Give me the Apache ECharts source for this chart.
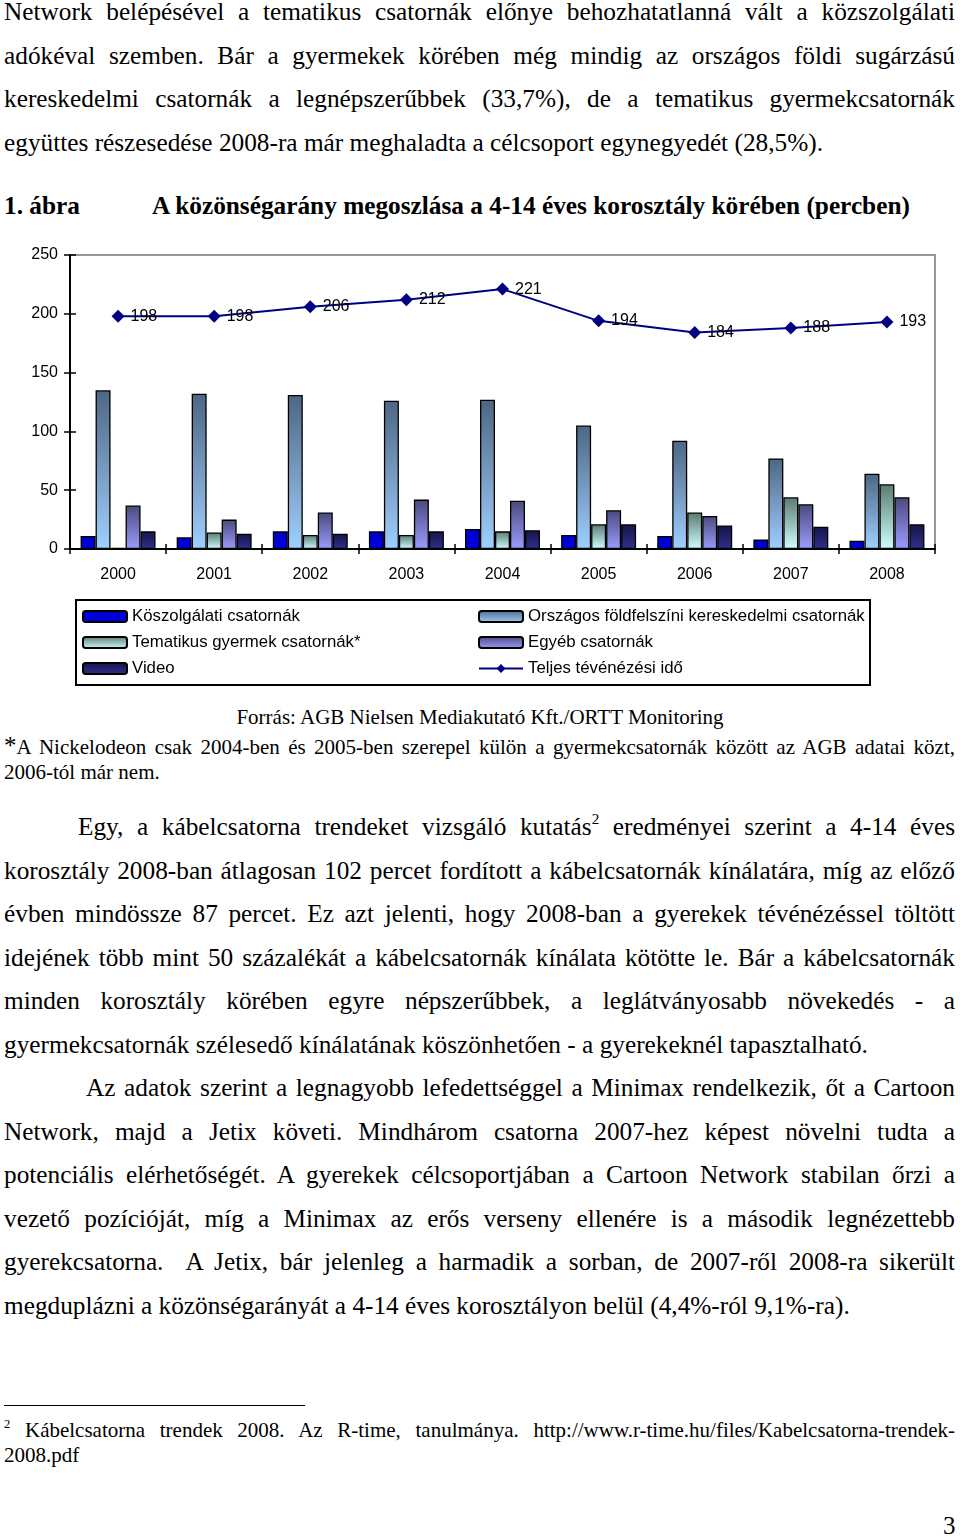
<!DOCTYPE html>
<html>
<head>
<meta charset="utf-8">
<script src="https://cdn.jsdelivr.net/npm/echarts@6/dist/echarts.min.js"></script>
<style>
  html, body { margin: 0; padding: 0; background: #fff; }
  body { width: 960px; height: 1537px; position: relative; overflow: hidden; font-family: "Liberation Serif", "Times New Roman", serif; color: #000; }
  .blk { position: absolute; left: 4px; width: 951px; }
  .p { font-size: 25.3px; line-height: 43.5px; }
  .l { white-space: nowrap; text-align: justify; text-align-last: justify; display: block; }
  .l.last { text-align-last: left; }
  .small { font-size: 21px; line-height: 25px; }
  sup { font-size: 60%; line-height: 0; vertical-align: 0.7em; }
  #chart { position: absolute; left: 0; top: 240px; width: 960px; height: 460px; }
</style>
</head>
<body>
<div class="blk p" style="top:-10px">
  <span class="l">Network belépésével a tematikus csatornák előnye behozhatatlanná vált a közszolgálati</span>
  <span class="l">adókéval szemben. Bár a gyermekek körében még mindig az országos földi sugárzású</span>
  <span class="l">kereskedelmi csatornák a legnépszerűbbek (33,7%), de a tematikus gyermekcsatornák</span>
  <span class="l last">együttes részesedése 2008-ra már meghaladta a célcsoport egynegyedét (28,5%).</span>
</div>
<div style="position:absolute; top:190px; left:4px; font-size:25.3px; font-weight:bold; line-height:30px;">1. ábra</div>
<div style="position:absolute; top:190px; left:152px; font-size:25.3px; font-weight:bold; line-height:30px;">A közönségarány megoszlása a 4-14 éves korosztály körében (percben)</div>

<div id="chart"></div>

<div style="position:absolute; top:705px; left:0; width:960px; text-align:center; font-size:21px; line-height:25px;">Forrás: AGB Nielsen Mediakutató Kft./ORTT Monitoring</div>
<div class="blk small" style="top:733px">
  <span class="l"><span style="font-size:25px">*</span>A Nickelodeon csak 2004-ben és 2005-ben szerepel külön a gyermekcsatornák között az AGB adatai közt,</span>
  <span class="l last">2006-tól már nem.</span>
</div>

<div class="blk p" style="top:805px">
  <span class="l" style="padding-left:74px">Egy, a kábelcsatorna trendeket vizsgáló kutatás<sup>2</sup> eredményei szerint a 4-14 éves</span>
  <span class="l">korosztály 2008-ban átlagosan 102 percet fordított a kábelcsatornák kínálatára, míg az előző</span>
  <span class="l">évben mindössze 87 percet. Ez azt jelenti, hogy 2008-ban a gyerekek tévénézéssel töltött</span>
  <span class="l">idejének több mint 50 százalékát a kábelcsatornák kínálata kötötte le. Bár a kábelcsatornák</span>
  <span class="l">minden korosztály körében egyre népszerűbbek, a leglátványosabb növekedés - a</span>
  <span class="l last">gyermekcsatornák szélesedő kínálatának köszönhetően - a gyerekeknél tapasztalható.</span>
</div>

<div class="blk p" style="top:1066px">
  <span class="l" style="padding-left:82px">Az adatok szerint a legnagyobb lefedettséggel a Minimax rendelkezik, őt a Cartoon</span>
  <span class="l">Network, majd a Jetix követi. Mindhárom csatorna 2007-hez képest növelni tudta a</span>
  <span class="l">potenciális elérhetőségét. A gyerekek célcsoportjában a Cartoon Network stabilan őrzi a</span>
  <span class="l">vezető pozícióját, míg a Minimax az erős verseny ellenére is a második legnézettebb</span>
  <span class="l">gyerekcsatorna.&nbsp; A Jetix, bár jelenleg a harmadik a sorban, de 2007-ről 2008-ra sikerült</span>
  <span class="l last">megduplázni a közönségarányát a 4-14 éves korosztályon belül (4,4%-ról 9,1%-ra).</span>
</div>

<div style="position:absolute; left:4px; top:1405px; width:301px; height:0; border-top:1.5px solid #000;"></div>
<div class="blk small" style="top:1418px">
  <span class="l"><sup>2</sup> Kábelcsatorna trendek 2008. Az R-time, tanulmánya. http://www.r-time.hu/files/Kabelcsatorna-trendek-</span>
  <span class="l last">2008.pdf</span>
</div>
<div style="position:absolute; left:943px; top:1511px; font-size:25px; line-height:30px;">3</div>

<script>
// ---- data ----
const years = ['2000','2001','2002','2003','2004','2005','2006','2007','2008'];
const kozszolgalati = [11, 10, 15, 15, 17, 12, 11, 8, 7];
const orszagos      = [135, 132, 131, 126, 127, 105, 92, 77, 64];
const tematikus     = [1, 14, 12, 12, 15, 21, 31, 44, 55];
const egyeb         = [37, 25, 31, 42, 41, 33, 28, 38, 44];
const video         = [15, 13, 13, 15, 16, 21, 20, 19, 21];
const teljes        = [198, 198, 206, 212, 221, 194, 184, 188, 193];
const yTicks = [0, 50, 100, 150, 200, 250];

const names = {
  koz: 'Köszolgálati csatornák',
  orsz: 'Országos földfelszíni kereskedelmi csatornák',
  tem: 'Tematikus gyermek csatornák*',
  egy: 'Egyéb csatornák',
  vid: 'Video',
  tel: 'Teljes tévénézési idő'
};

const FONT = '"Liberation Sans", Arial, sans-serif';
function grad(top, bottom) {
  return new echarts.graphic.LinearGradient(0, 0, 0, 1, [
    { offset: 0, color: top }, { offset: 1, color: bottom }
  ]);
}
function barSeries(name, data, color) {
  return {
    name, type: 'bar', data, barGap: 0, barCategoryGap: '22%',
    itemStyle: { color, borderColor: '#000', borderWidth: 1.3 },
    emphasis: { disabled: true }
  };
}

const chart = echarts.init(document.getElementById('chart'), null, { renderer: 'canvas' });
chart.setOption({
  animation: false,
  textStyle: { fontFamily: FONT },
  grid: { left: 70, right: 25, top: 15, bottom: 151, show: true, borderColor: '#999', borderWidth: 2 },
  xAxis: [{
    type: 'category', data: years,
    axisLine: { lineStyle: { color: '#000', width: 2 } },
    axisTick: { show: true, length: 5, lineStyle: { color: '#000', width: 1.5 } },
    axisLabel: { color: '#000', fontSize: 16, margin: 18, fontFamily: FONT }
  }, {
    type: 'category', data: years, position: 'bottom',
    axisLine: { show: false },
    axisTick: { show: true, inside: true, length: 5, lineStyle: { color: '#000', width: 1.5 } },
    axisLabel: { show: false }
  }],
  yAxis: [{
    type: 'value', min: 0, max: 250, interval: 50,
    axisLine: { show: true, lineStyle: { color: '#000', width: 2 } },
    axisTick: { show: true, length: 6, lineStyle: { color: '#000', width: 1.5 } },
    axisLabel: { color: '#000', fontSize: 16, margin: 12, fontFamily: FONT,
      formatter: v => yTicks.includes(v) ? String(v) : '' },
    splitLine: { show: false }
  }, {
    type: 'value', min: 0, max: 250, interval: 50, position: 'left',
    axisLine: { show: false },
    axisTick: { show: true, inside: true, length: 6, lineStyle: { color: '#000', width: 1.5 } },
    axisLabel: { show: false }, splitLine: { show: false }
  }],
  legend: [{
    orient: 'vertical', left: 82, top: 368, padding: 0, itemGap: 9, itemWidth: 44, itemHeight: 11,
    textStyle: { color: '#000', fontSize: 16.8, fontFamily: FONT },
    data: [names.koz, names.tem, names.vid]
  }, {
    orient: 'vertical', left: 478, top: 368, padding: 0, itemGap: 9, itemWidth: 44, itemHeight: 11,
    textStyle: { color: '#000', fontSize: 16.8, fontFamily: FONT },
    data: [names.orsz, names.egy, names.tel]
  }],
  graphic: [{
    type: 'rect', shape: { x: 76, y: 360, width: 794, height: 85 },
    style: { fill: null, stroke: '#000', lineWidth: 2 }, silent: true
  }],
  series: [
    barSeries(names.koz, kozszolgalati, grad('#0000c8', '#0000e0')),
    barSeries(names.orsz, orszagos, grad('#4d6684', '#9fd0ff')),
    barSeries(names.tem, tematikus, grad('#5a7a72', '#d0ffff')),
    barSeries(names.egy, egyeb, grad('#4a4a7c', '#9c9cff')),
    barSeries(names.vid, video, grad('#141448', '#30308e')),
    {
      name: names.tel, type: 'line', data: teljes,
      symbol: 'diamond', symbolSize: 13,
      lineStyle: { color: '#000080', width: 2 },
      itemStyle: { color: '#000080' },
      label: { show: true, position: 'right', distance: 6, color: '#000', fontSize: 16, fontFamily: FONT },
      emphasis: { disabled: true }
    }
  ]
});
</script>
</body>
</html>
